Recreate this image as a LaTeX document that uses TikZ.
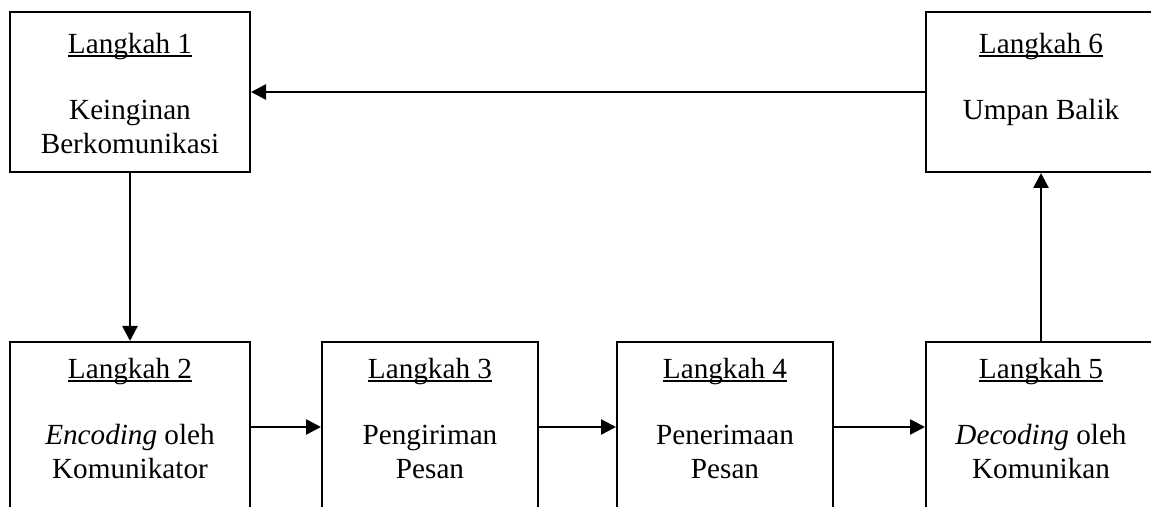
\documentclass[tikz,border=0pt]{standalone}
\usepackage{fontspec}
\setmainfont{Liberation Serif}
\usetikzlibrary{arrows.meta, positioning}

% underline that sits just under the baseline
\newcommand{\stepul}[1]{\setbox0\hbox{#1}\rlap{\rule[-1.6pt]{\wd0}{0.7pt}}\box0}

\tikzset{
  stepbox/.style={draw, line width=1pt, rectangle, inner sep=0pt},
  steptext/.style={align=center, inner sep=0pt,
    font=\fontsize{14.6}{17}\selectfont},
  flow/.style={line width=1.3pt, -{Triangle[length=7.5pt,width=7.5pt]}}
}

\begin{document}
\begin{tikzpicture}[x=0.5pt,y=0.5pt,yscale=-1]
\useasboundingbox (0,0) rectangle (1151,507);
\clip (0,0) rectangle (1151,507);

% top row
\node[stepbox, minimum width=120pt, minimum height=80pt] (s1) at (130,92) {};
\node[stepbox, minimum width=115pt, minimum height=80pt] (s6) at (1041,92) {};

% bottom row (runs past the lower edge)
\node[stepbox, minimum width=120pt, minimum height=85pt] (s2) at (130,427) {};
\node[stepbox, minimum width=108pt, minimum height=85pt] (s3) at (430,427) {};
\node[stepbox, minimum width=108pt, minimum height=85pt] (s4) at (725,427) {};
\node[stepbox, minimum width=115pt, minimum height=85pt] (s5) at (1041,427) {};

% Text
\node[steptext, anchor=north] (t1) at (130,33) {\stepul{Langkah 1}\\[16pt]Keinginan\\Berkomunikasi};
\node[steptext, anchor=north] (t6) at (1041,33) {\stepul{Langkah 6}\\[16pt]Umpan Balik};
\node[steptext, anchor=north] (t2) at (130,358) {\stepul{Langkah 2}\\[16pt]\textit{Encoding} oleh\\Komunikator};
\node[steptext, anchor=north] (t3) at (430,358) {\stepul{Langkah 3}\\[16pt]Pengiriman\\Pesan};
\node[steptext, anchor=north] (t4) at (725,358) {\stepul{Langkah 4}\\[16pt]Penerimaan\\Pesan};
\node[steptext, anchor=north] (t5) at (1041,358) {\stepul{Langkah 5}\\[16pt]\textit{Decoding} oleh\\Komunikan};

% arrows
\draw[flow] (s1.south) -- (s2.north);
\draw[flow] (s2.east) -- (s3.west);
\draw[flow] (s3.east) -- (s4.west);
\draw[flow] (s4.east) -- (s5.west);
\draw[flow] (s5.north) -- (s6.south);
\draw[flow] (s6.west) -- (s1.east);
\end{tikzpicture}
\end{document}
